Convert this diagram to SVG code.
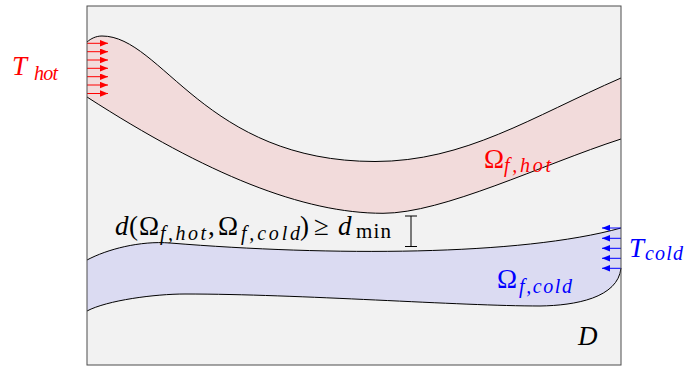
<svg xmlns="http://www.w3.org/2000/svg" width="684" height="367" viewBox="0 0 684 367">
<style>
text{font-family:"Liberation Serif","DejaVu Serif",serif;}
.mi{font-style:italic;}
.m{font-size:27px;}
.s{font-size:20px;font-style:italic;}
.sr{font-size:21px;}
.edge{fill:none;stroke:#000;stroke-width:1;}
.ra{stroke:#ff0000;stroke-width:1;marker-end:url(#rh);}
.ba{stroke:#0000ff;stroke-width:1;marker-end:url(#bh);}
</style>
<defs>
<marker id="rh" markerUnits="userSpaceOnUse" markerWidth="9" markerHeight="7" refX="8" refY="3.2" orient="auto"><path d="M0,0 L8,3.2 L0,6.4 Z" fill="#ff0000"/></marker>
<marker id="bh" markerUnits="userSpaceOnUse" markerWidth="9" markerHeight="7" refX="8" refY="3.2" orient="auto"><path d="M0,0 L8,3.2 L0,6.4 Z" fill="#0000ff"/></marker>
</defs>
<rect x="0" y="0" width="684" height="367" fill="#ffffff"/>
<rect x="87" y="6" width="534" height="359" fill="#f2f2f2"/>

<g id="hot-channel">
<path d="M87,42 C91,38.5 96,36 102,36 C162,36 205,161.5 375,161.5 C465,161.5 532,116.7 621,78 L621,139 C542,164.6 443,213.3 383,213.3 C303,213.3 207,174.4 87,97 Z" fill="#f2dbdb"/>
<path class="edge" d="M87,42 C91,38.5 96,36 102,36 C162,36 205,161.5 375,161.5 C465,161.5 532,116.7 621,78"/>
<path class="edge" d="M87,97 C207,174.4 303,213.3 383,213.3 C443,213.3 542,164.6 621,139"/>
<text class="m" x="484" y="168" fill="#ff0000">Ω</text>
<text class="s" x="504" y="172" fill="#ff0000" textLength="47" lengthAdjust="spacing">f,hot</text>
</g>

<g id="cold-channel">
<path d="M87,260 C107,249.3 140,240.6 170,243 C330,256 520,256 621,228 L621,268 C618,298 575,305.5 540,306 C460,306 300,294 185,294 C155,294 107,300.3 87,311 Z" fill="#dbdbf2"/>
<path class="edge" d="M87,260 C107,249.3 140,240.6 170,243 C330,256 520,256 621,228"/>
<path class="edge" d="M87,311 C107,300.3 155,294 185,294 C300,294 460,306 540,306 C575,305.5 618,298 621,268"/>
<text class="m" x="497" y="288" fill="#0000ff">Ω</text>
<text class="s" x="519" y="293" fill="#0000ff" textLength="53" lengthAdjust="spacing">f,cold</text>
</g>

<g id="connectors">
<line class="ra" x1="87" y1="43.3" x2="108" y2="43.3"/>
<line class="ra" x1="87" y1="51.7" x2="108" y2="51.7"/>
<line class="ra" x1="87" y1="60" x2="108" y2="60"/>
<line class="ra" x1="87" y1="68.3" x2="108" y2="68.3"/>
<line class="ra" x1="87" y1="76.7" x2="108" y2="76.7"/>
<line class="ra" x1="87" y1="85" x2="108" y2="85"/>
<line class="ra" x1="87" y1="93.5" x2="108" y2="93.5"/>
<line class="ba" x1="621" y1="228" x2="602" y2="228"/>
<line class="ba" x1="621" y1="238.3" x2="602" y2="238.3"/>
<line class="ba" x1="621" y1="248.3" x2="602" y2="248.3"/>
<line class="ba" x1="621" y1="258.3" x2="602" y2="258.3"/>
<line class="ba" x1="621" y1="268.3" x2="602" y2="268.3"/>
<path d="M405,216 H417 M411,216 V246.5 M405,246.5 H417" fill="none" stroke="#000" stroke-width="1"/>
</g>

<g id="domain">
<rect x="87" y="6" width="534" height="359" fill="none" stroke="#4d4d4d" stroke-width="1"/>
<text class="m mi" x="578" y="345" fill="#000">D</text>
</g>

<g id="t-hot">
<text class="m mi" x="12" y="75" fill="#ff0000">T</text>
<text class="s" x="34" y="79.5" fill="#ff0000" textLength="24" lengthAdjust="spacing">hot</text>
</g>

<g id="t-cold">
<text class="m mi" x="629" y="257" fill="#0000ff">T</text>
<text class="s" x="645" y="260" fill="#0000ff" textLength="38" lengthAdjust="spacing">cold</text>
</g>

<g id="distance-label">
<text class="m mi" x="115" y="235">d</text>
<text class="m" x="129" y="235">(</text>
<text class="m" x="139" y="235">Ω</text>
<text class="s" x="160" y="239.5" textLength="46" lengthAdjust="spacing">f,hot</text>
<text class="m" x="208" y="235">,</text>
<text class="m" x="218" y="235">Ω</text>
<text class="s" x="241" y="239.5" textLength="59" lengthAdjust="spacing">f,cold</text>
<text class="m" x="300" y="235">)</text>
<text class="m" x="314" y="235">≥</text>
<text class="m mi" x="338" y="235">d</text>
<text class="sr" x="356" y="238" textLength="35" lengthAdjust="spacing">min</text>
</g>
</svg>
